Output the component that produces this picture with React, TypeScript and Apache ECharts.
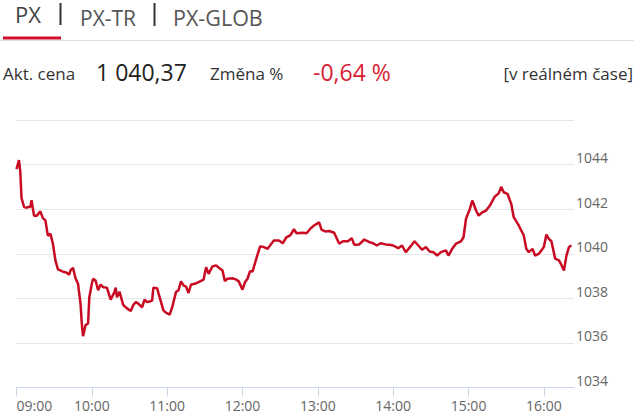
import React, { useEffect, useRef } from "react";
import * as echarts from "echarts";

const tabs = ["PX", "PX-TR", "PX-GLOB"];
const priceLabel = "Akt. cena";
const priceValue = "1 040,37";
const changeLabel = "Změna %";
const changeValue = "-0,64 %";
const realtimeLabel = "[v reálném čase]";

const times = [
  "09:00", "09:02", "09:03", "09:04", "09:06", "09:08", "09:09", "09:11", "09:12", "09:14",
  "09:16", "09:19", "09:21", "09:23", "09:25", "09:27", "09:29", "09:31", "09:33", "09:37",
  "09:40", "09:42", "09:43", "09:45", "09:47", "09:49", "09:51", "09:52", "09:53", "09:55",
  "09:57", "09:58", "10:00", "10:01", "10:03", "10:05", "10:07", "10:09", "10:12", "10:15",
  "10:18", "10:19", "10:20", "10:22", "10:25", "10:28", "10:31", "10:33", "10:35", "10:37",
  "10:40", "10:42", "10:44", "10:46", "10:48", "10:49", "10:52", "10:54", "10:57", "10:59",
  "11:02", "11:04", "11:07", "11:09", "11:11", "11:13", "11:15", "11:17", "11:19", "11:22",
  "11:25", "11:29", "11:31", "11:33", "11:36", "11:39", "11:42", "11:44", "11:46", "11:48",
  "11:52", "11:55", "11:57", "12:00", "12:02", "12:04", "12:06", "12:08", "12:11", "12:14",
  "12:17", "12:20", "12:25", "12:29", "12:32", "12:35", "12:38", "12:41", "12:43", "12:48",
  "12:51", "12:54", "12:57", "13:01", "13:03", "13:06", "13:09", "13:13", "13:17", "13:20",
  "13:24", "13:27", "13:29", "13:33", "13:37", "13:41", "13:44", "13:47", "13:50", "13:54",
  "13:57", "14:00", "14:04", "14:07", "14:10", "14:14", "14:17", "14:20", "14:23", "14:26",
  "14:29", "14:32", "14:35", "14:38", "14:42", "14:44", "14:47", "14:50", "14:54", "14:56",
  "14:58", "15:01", "15:03", "15:06", "15:08", "15:11", "15:14", "15:17", "15:21", "15:24",
  "15:26", "15:28", "15:31", "15:34", "15:36", "15:40", "15:44", "15:46", "15:48", "15:51",
  "15:53", "15:56", "15:58", "16:00", "16:02", "16:04", "16:06", "16:09", "16:12", "16:14",
  "16:16", "16:18", "16:20", "16:22",
];

const values = [
  1043.8, 1044.2, 1043.7, 1042.5, 1042.1, 1042.06, 1042.1, 1042.1, 1042.4, 1041.7,
  1041.7, 1041.9, 1041.6, 1041.5, 1040.8, 1040.9, 1040.45, 1039.7, 1039.3, 1039.2,
  1039.15, 1039.06, 1039.25, 1039.37, 1038.9, 1038.65, 1037.76, 1036.87, 1036.3, 1036.8,
  1036.87, 1038.05, 1038.65, 1038.88, 1038.8, 1038.36, 1038.62, 1038.5, 1038.48, 1037.94,
  1038.28, 1038.48, 1038.05, 1038.3, 1037.7, 1037.55, 1037.43, 1037.7, 1037.83, 1037.76,
  1037.6, 1037.94, 1037.83, 1037.86, 1037.9, 1038.48, 1038.45, 1038.05, 1037.46, 1037.36,
  1037.27, 1037.6, 1038.28, 1038.36, 1038.76, 1038.58, 1038.53, 1038.24, 1038.62, 1038.65,
  1038.73, 1038.84, 1039.4, 1039.1, 1039.43, 1039.48, 1039.33, 1039.26, 1038.77, 1038.88,
  1038.9, 1038.84, 1038.76, 1038.39, 1038.73, 1038.88, 1039.22, 1039.2, 1039.78, 1040.33,
  1040.3, 1040.22, 1040.6, 1040.6, 1040.47, 1040.74, 1040.82, 1041.1, 1040.92, 1040.94,
  1040.92, 1041.12, 1041.27, 1041.41, 1041.07, 1041.0, 1041.02, 1040.94, 1040.45, 1040.56,
  1040.56, 1040.7, 1040.4, 1040.42, 1040.64, 1040.52, 1040.47, 1040.37, 1040.47, 1040.42,
  1040.4, 1040.37, 1040.25, 1040.37, 1040.07, 1040.34, 1040.56, 1040.37, 1040.18, 1040.3,
  1040.1, 1040.07, 1039.92, 1040.07, 1040.15, 1039.92, 1040.22, 1040.45, 1040.56, 1040.74,
  1041.57, 1042.0, 1042.39, 1041.94, 1041.71, 1041.86, 1041.94, 1042.16, 1042.57, 1042.71,
  1043.0, 1042.76, 1042.69, 1042.24, 1041.64, 1041.27, 1040.82, 1040.22, 1040.07, 1040.22,
  1039.92, 1040.0, 1040.15, 1040.3, 1040.86, 1040.67, 1040.56, 1039.78, 1039.7, 1039.5,
  1039.25, 1039.92, 1040.3, 1040.37,
];

const hourTicks = ["09:00", "10:00", "11:00", "12:00", "13:00", "14:00", "15:00", "16:00"];
const yTicks = [1034, 1036, 1038, 1040, 1042, 1044, 1046];

const toMin = (t: string) => {
  const [h, m] = t.split(":").map(Number);
  return (h - 9) * 60 + m;
};
const fmt = (v: number) => {
  const h = 9 + Math.floor(v / 60);
  const m = Math.round(v % 60);
  return (h < 10 ? "0" : "") + h + ":" + (m < 10 ? "0" : "") + m;
};

const FONT = "'Open Sans', 'DejaVu Sans', sans-serif";

export default function App() {
  const ref = useRef<HTMLDivElement>(null);
  useEffect(() => {
    if (!ref.current) return;
    const chart = echarts.init(ref.current, null, { renderer: "svg" });
    const tickVals = hourTicks.map(toMin);
    const data = times.map((t, i) => [toMin(t), values[i]]);
    const text = (t: string, x: number, y: number, size: number, fill: string, align = "left") => ({
      type: "text",
      x,
      y,
      silent: true,
      style: {
        text: t,
        fill,
        fontFamily: FONT,
        fontSize: size,
        align,
        verticalAlign: "middle",
      },
    });
    chart.setOption({
      animation: false,
      backgroundColor: "#ffffff",
      textStyle: { fontFamily: FONT },
      grid: { left: 16.5, right: 66, top: 120, bottom: 30.5, containLabel: false },
      xAxis: {
        type: "value",
        min: 0,
        max: 444,
        interval: 60,
        splitLine: { show: false },
        axisLine: { show: true, lineStyle: { color: "#ccd6eb", width: 1 } },
        axisTick: { show: true, length: 9, customValues: tickVals, lineStyle: { color: "#ccd6eb" } },
        axisLabel: {
          customValues: tickVals,
          formatter: (v: number) => fmt(v),
          color: "#666666",
          fontSize: 14,
          fontFamily: FONT,
          margin: 11,
          alignMinLabel: "left",
        },
      },
      yAxis: {
        type: "value",
        position: "right",
        min: yTicks[0],
        max: yTicks[yTicks.length - 1],
        interval: 2,
        axisLine: { show: false },
        axisTick: { show: false },
        splitLine: { show: true, lineStyle: { color: "#e6e6e6", width: 1 } },
        axisLabel: {
          showMaxLabel: false,
          formatter: (v: number) => String(v),
          color: "#666666",
          fontSize: 14,
          fontFamily: FONT,
          margin: 2,
          verticalAlign: "bottom",
          lineHeight: 14,
        },
      },
      series: [
        {
          type: "line",
          data,
          showSymbol: false,
          symbol: "none",
          lineStyle: { color: "#c80a22", width: 2.5 },
          itemStyle: { color: "#c80a22" },
        },
      ],
      graphic: [
        text(tabs[0], 15, 13.5, 22, "#444444"),
        { type: "rect", silent: true, shape: { x: 59.5, y: 3, width: 2, height: 22 }, style: { fill: "#333333" } },
        text(tabs[1], 80, 17.5, 21, "#555555"),
        { type: "rect", silent: true, shape: { x: 153.5, y: 3, width: 2, height: 23 }, style: { fill: "#333333" } },
        text(tabs[2], 173, 17.5, 21.5, "#555555"),
        { type: "rect", silent: true, shape: { x: 0, y: 40, width: 634, height: 1 }, style: { fill: "#e0e0e0" } },
        { type: "rect", silent: true, shape: { x: 3, y: 36.5, width: 58, height: 3 }, style: { fill: "#d0102a" } },
        text(priceLabel, 3, 73.5, 17, "#333333"),
        text(priceValue, 96, 72, 23, "#222222"),
        text(changeLabel, 210, 73.5, 17, "#333333"),
        text(changeValue, 313, 72, 23, "#d81e35"),
        text(realtimeLabel, 633, 73.5, 17, "#333333", "right"),
      ],
    });
    return () => chart.dispose();
  }, []);
  return (
    <div
      ref={ref}
      style={{ position: "absolute", left: 0, top: 0, width: 640, height: 418 }}
    />
  );
}
